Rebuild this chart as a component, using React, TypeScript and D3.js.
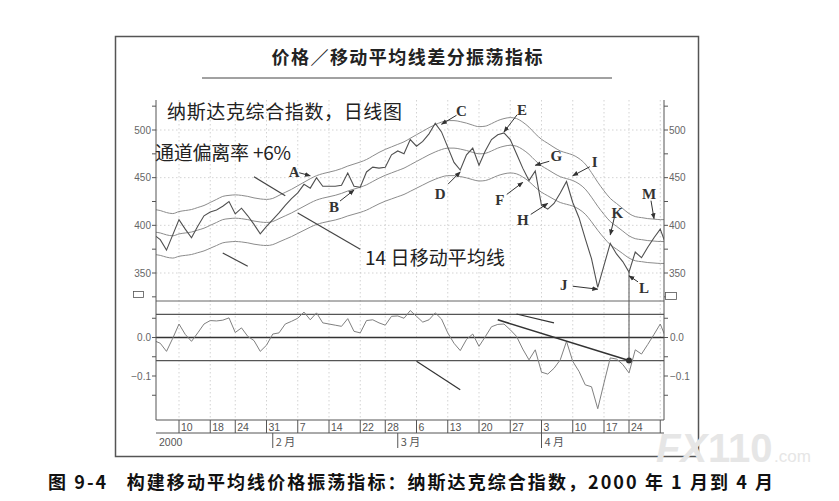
import React from 'react';
import * as d3 from 'd3';

// trading days, Jan 4 .. May 2, 2000
const dates = [
  '01-04', '01-05', '01-06', '01-07', '01-10', '01-11', '01-12', '01-13', '01-14', '01-18',
  '01-19', '01-20', '01-21', '01-24', '01-25', '01-26', '01-27', '01-28', '01-31',
  '02-01', '02-02', '02-03', '02-04', '02-07', '02-08', '02-09', '02-10', '02-11', '02-14',
  '02-15', '02-16', '02-17', '02-18', '02-22', '02-23', '02-24', '02-25', '02-28', '02-29',
  '03-01', '03-02', '03-03', '03-06', '03-07', '03-08', '03-09', '03-10', '03-13', '03-14',
  '03-15', '03-16', '03-17', '03-20', '03-21', '03-22', '03-23', '03-24', '03-27', '03-28',
  '03-29', '03-30', '03-31',
  '04-03', '04-04', '04-05', '04-06', '04-07', '04-10', '04-11', '04-12', '04-13', '04-14',
  '04-17', '04-18', '04-19', '04-20', '04-24', '04-25', '04-26', '04-27', '04-28',
  '05-01', '05-02',
];

const closes = [
  390, 385, 374, 390, 406, 396, 387, 399, 410, 414, 416, 420, 425, 412, 418, 410, 401, 391, 399,
  406, 413, 421, 428, 434, 443, 439, 450, 441, 441, 441, 442, 455, 441, 440, 456, 461, 460, 461, 474,
  478, 475, 490, 483, 488, 496, 507, 498, 482, 466, 458, 474, 481, 463, 478, 490, 495, 497, 490, 475,
  460, 447, 457,
  421, 417, 423, 434, 446, 424, 408, 386, 365, 335, 358, 381, 370, 362, 351, 372, 366, 377, 387,
  396, 378,
];

// 14-day moving average
const ma14 = [
  393, 392, 390, 389, 391, 392, 393, 395, 397, 400,
  403, 406, 407, 407.5, 407, 406, 404.5, 403.5, 403, 404,
  407, 410, 413, 416.5, 420, 423.5, 426.5, 428.5, 430, 431.5,
  433.5, 436, 438, 440, 442.5, 446, 449.5, 452.5, 455, 457.5,
  460, 463.5, 467, 470.5, 474, 477, 479.5, 481, 481, 480,
  478.5, 476.5, 475, 475.5, 478, 481, 483, 484, 483, 479.5,
  474.5, 468, 462.5, 458.5, 454.5, 451, 449, 447, 443.5, 438,
  429.5, 420, 411.5, 404, 399, 394, 389, 386, 385, 384,
  383.5, 383, 383,
];

const bandPct = 0.06;

// price / moving average oscillator
const osc = [
  -0.008, -0.015, -0.036, -0.002, 0.035, 0.008, -0.01, 0.012, 0.035, 0.044, 0.043, 0.045, 0.051,
  0.013, 0.025, 0.003, -0.008, -0.036, -0.02,
  0.009, 0.012, 0.035, 0.042, 0.05, 0.066, 0.046, 0.064, 0.038, 0.035, 0.032, 0.029, 0.049, 0.016,
  0.012, 0.044, 0.046, 0.038, 0.032, 0.055,
  0.056, 0.05, 0.07, 0.055, 0.04, 0.046, 0.064, 0.048, 0.012, -0.015, -0.034, -0.005, 0.009, -0.023,
  0.002, 0.028, 0.034, 0.035, 0.02, 0.003, -0.03, -0.058, -0.032,
  -0.09, -0.095, -0.08, -0.058, -0.01, -0.062, -0.088, -0.123, -0.128, -0.185, -0.118, -0.053,
  -0.056, -0.07, -0.092, -0.032, -0.043, -0.018, 0.008,
  0.035, -0.005,
];

const priceMajor = [350, 400, 450, 500];
const priceMinor = [325, 375, 425, 475, 525];
const oscMajor = [-0.1, 0];
const oscMinor = [-0.15, -0.05, 0.05];
const oscBands = [0.06, -0.06];

const weekTicks = ['01-10', '01-18', '01-24', '01-31', '02-07', '02-14', '02-22', '02-28',
  '03-06', '03-13', '03-20', '03-27', '04-03', '04-10', '04-17', '04-24', '05-01'];
const monthStarts = ['02-01', '03-01', '04-03'];
const monthLabels = ['2 月', '3 月', '4 月'];
const yearLabel = '2000';

// lettered arrows: tip on the chart, tail and label offsets in px
const marks = [
  { label: 'A', date: '02-09', value: 452, tail: [-11, -3], text: [-16, -4] },
  { label: 'B', date: '02-18', value: 437, tail: [-14, 11], text: [-20, 17] },
  { label: 'C', date: '03-10', value: 506, tail: [15, -9], text: [20, -13] },
  { label: 'D', date: '03-15', value: 456, tail: [-12, 12], text: [-20, 22] },
  { label: 'E', date: '03-24', value: 498, tail: [13, -17], text: [18, -22] },
  { label: 'F', date: '03-29', value: 445, tail: [-16, 12], text: [-23, 18] },
  { label: 'G', date: '03-31', value: 463, tail: [14, -4], text: [21, -9] },
  { label: 'H', date: '04-04', value: 423, tail: [-17, 11], text: [-25, 17] },
  { label: 'I', date: '04-10', value: 452, tail: [17, -9], text: [22, -14] },
  { label: 'J', date: '04-14', value: 333, tail: [-25, -3], text: [-34, -4] },
  { label: 'K', date: '04-18', value: 390, tail: [4, -17], text: [7, -22] },
  { label: 'L', date: '04-24', value: 347, tail: [9, 6], text: [15, 12] },
  { label: 'M', date: '04-28', value: 407, tail: [-3, -18], text: [-5, -25] },
];

const pricePointers = [
  { from: ['01-27', 451], to: ['02-03', 431] },
  { from: ['02-07', 413], to: ['02-22', 375] },
  { from: ['01-20', 371], to: ['01-26', 357] },
];

const oscPointers = [
  { from: ['03-06', -0.062], to: ['03-15', -0.136], w: 1.2 },
  { from: ['03-23', 0.046], to: ['04-24', -0.06], w: 1.6 },
  { from: ['03-28', 0.061], to: ['04-05', 0.038], w: 1.2 },
];

const L = 156, R = 664, PT = 100, PB = 301, OB = 420, AX1 = 433, AX2 = 448;

const cjk = '"Noto Sans CJK SC", sans-serif';
const latin = '"Liberation Sans", Arial, sans-serif';

const x = d3.scaleLinear().domain([0, dates.length - 1]).range([154, 666.5]);
const yP = d3.scaleLinear().domain([350, 500]).range([273, 130]);
const yO = d3.scaleLinear().domain([-0.1, 0]).range([376, 337.5]);
const xd = (d: string) => x(dates.indexOf(d));

const priceLine = d3.line<number>().x((_, i) => x(i)).y(d => yP(d));
const maLine = d3.line<number>().x((_, i) => x(i)).y(d => yP(d)).curve(d3.curveMonotoneX);
const oscLine = d3.line<number>().x((_, i) => x(i)).y(d => yO(d));

const fmtOsc = d3.format('.1f');

const App: React.FC = () => {
  const upper = ma14.map(v => v * (1 + bandPct));
  const lower = ma14.map(v => v * (1 - bandPct));

  return (
    <svg width={839} height={501} style={{ position: 'absolute', left: 0, top: 0, background: '#fff' }}>
      <defs>
        <clipPath id="pclip"><rect x={L} y={PT} width={R - L} height={PB - PT} /></clipPath>
        <clipPath id="oclip"><rect x={L} y={PB} width={R - L} height={OB - PB} /></clipPath>
        <marker id="arr" viewBox="0 0 10 10" refX="9" refY="5" markerWidth="6" markerHeight="6" orient="auto">
          <path d="M0,1 L10,5 L0,9 Z" fill="#333" />
        </marker>
      </defs>

      {/* outer frame */}
      <rect x={115.5} y={36.5} width={583} height={420} fill="none" stroke="#555" strokeWidth={1.5} />

      {/* title */}
      <text x={407} y={64} textAnchor="middle" fontFamily={cjk} fontWeight="bold" fontSize={18}
        fill="#222" textLength={271} lengthAdjust="spacing">价格／移动平均线差分振荡指标</text>
      <line x1={202} x2={612} y1={78} y2={78} stroke="#444" strokeWidth={1} />

      {/* grid */}
      {weekTicks.map(d => (
        <line key={'g' + d} x1={xd(d)} x2={xd(d)} y1={PT} y2={OB} stroke="#c8c8c8" strokeWidth={0.8}
          strokeDasharray="1.5,2.5" />
      ))}
      {priceMajor.map(v => (
        <line key={'h' + v} x1={L} x2={R} y1={yP(v)} y2={yP(v)} stroke="#c8c8c8" strokeWidth={0.8}
          strokeDasharray="1.5,2.5" />
      ))}

      {/* price panel */}
      <g clipPath="url(#pclip)" fill="none">
        <path d={maLine(upper) ?? ''} stroke="#8c8c8c" strokeWidth={1} />
        <path d={maLine(ma14) ?? ''} stroke="#8c8c8c" strokeWidth={1} />
        <path d={maLine(lower) ?? ''} stroke="#8c8c8c" strokeWidth={1} />
        <path d={priceLine(closes) ?? ''} stroke="#505050" strokeWidth={1.1} />
      </g>

      {/* oscillator panel */}
      <g clipPath="url(#oclip)" fill="none">
        {oscBands.map(v => (
          <line key={'b' + v} x1={L} x2={R} y1={yO(v)} y2={yO(v)} stroke="#555" strokeWidth={1.2} />
        ))}
        <line x1={L} x2={R} y1={yO(0)} y2={yO(0)} stroke="#333" strokeWidth={1.7} />
        <path d={oscLine(osc) ?? ''} stroke="#808080" strokeWidth={1} />
        {oscPointers.map((p, i) => (
          <line key={'op' + i} x1={xd(p.from[0] as string)} y1={yO(p.from[1] as number)}
            x2={xd(p.to[0] as string)} y2={yO(p.to[1] as number)} stroke="#333" strokeWidth={p.w} />
        ))}
      </g>
      <line x1={xd('04-24')} x2={xd('04-24')} y1={yP(351)} y2={yO(-0.06)} stroke="#555" strokeWidth={1} />
      <circle cx={xd('04-24')} cy={yO(-0.06)} r={3} fill="#333" />

      {/* panel frame and axes */}
      <line x1={L} x2={R} y1={PB} y2={PB} stroke="#666" strokeWidth={1} />
      <line x1={L} x2={L} y1={PT} y2={OB} stroke="#555" strokeWidth={1} />
      <line x1={R} x2={R} y1={PT} y2={OB} stroke="#555" strokeWidth={1} />
      <line x1={L} x2={R} y1={OB} y2={OB} stroke="#555" strokeWidth={1} />
      <line x1={L} x2={R} y1={AX1} y2={AX1} stroke="#555" strokeWidth={1} />

      {[...priceMajor, ...priceMinor].map(v => (
        <g key={'pt' + v} stroke="#555" strokeWidth={1}>
          <line x1={L - 4} x2={L} y1={yP(v)} y2={yP(v)} />
          <line x1={R} x2={R + 4} y1={yP(v)} y2={yP(v)} />
        </g>
      ))}
      {priceMajor.map(v => (
        <g key={'pl' + v} fontFamily={latin} fontSize={10} fill="#666">
          <text x={L - 5} y={yP(v) + 3.5} textAnchor="end">{v}</text>
          <text x={R + 5} y={yP(v) + 3.5}>{v}</text>
        </g>
      ))}
      {[...oscMajor, ...oscMinor].map(v => (
        <g key={'ot' + v} stroke="#555" strokeWidth={1}>
          <line x1={L - 4} x2={L} y1={yO(v)} y2={yO(v)} />
          <line x1={R} x2={R + 4} y1={yO(v)} y2={yO(v)} />
        </g>
      ))}
      {oscMajor.map(v => (
        <g key={'ol' + v} fontFamily={latin} fontSize={10} fill="#666">
          <text x={L - 5} y={yO(v) + 3.5} textAnchor="end">{fmtOsc(v)}</text>
          <text x={R + 6} y={yO(v) + 3.5}>{fmtOsc(v)}</text>
        </g>
      ))}

      {/* small scale boxes */}
      <rect x={133.5} y={291.5} width={10} height={6} fill="#fff" stroke="#555" strokeWidth={0.8} />
      <rect x={665.5} y={292.5} width={11} height={7} fill="#fff" stroke="#555" strokeWidth={0.8} />

      {/* date axis */}
      {weekTicks.map(d => (
        <g key={'w' + d}>
          <line x1={xd(d)} x2={xd(d)} y1={OB} y2={AX1} stroke="#555" strokeWidth={1} />
          {xd(d) < R - 10 && (
            <text x={xd(d) + 2} y={AX1 - 2} fontFamily={latin} fontSize={10.5} fill="#555">
              {+d.slice(3)}
            </text>
          )}
        </g>
      ))}
      {monthStarts.map((d, i) => (
        <g key={'m' + d}>
          <line x1={xd(d)} x2={xd(d)} y1={AX1} y2={AX2} stroke="#555" strokeWidth={1} />
          <text x={xd(d) + 3} y={AX2 - 2} fontFamily={cjk} fontSize={11} fill="#555">{monthLabels[i]}</text>
        </g>
      ))}
      <text x={159} y={AX2 - 2} fontFamily={latin} fontSize={10.5} fill="#555">{yearLabel}</text>

      {/* annotations */}
      <text x={167} y={119} fontFamily={cjk} fontSize={19} fill="#222" textLength={235} lengthAdjust="spacing">
        纳斯达克综合指数，日线图
      </text>
      <text x={155} y={160} fontFamily={cjk} fontSize={19} fill="#222" textLength={136} lengthAdjust="spacing">
        通道偏离率 +6%
      </text>
      <text x={365} y={265} fontFamily={cjk} fontSize={19} fill="#222" textLength={140} lengthAdjust="spacing">
        14 日移动平均线
      </text>
      {pricePointers.map((p, i) => (
        <line key={'pp' + i} x1={xd(p.from[0] as string)} y1={yP(p.from[1] as number)}
          x2={xd(p.to[0] as string)} y2={yP(p.to[1] as number)} stroke="#444" strokeWidth={1.2} />
      ))}
      {marks.map(m => {
        const tx = xd(m.date), ty = yP(m.value);
        return (
          <g key={m.label}>
            <line x1={tx + m.tail[0]} y1={ty + m.tail[1]} x2={tx} y2={ty} stroke="#333" strokeWidth={1}
              markerEnd="url(#arr)" />
            <text x={tx + m.text[0]} y={ty + m.text[1]} textAnchor="middle" dominantBaseline="central"
              fontFamily='"Liberation Serif", serif' fontWeight="bold" fontSize={15} fill="#333">{m.label}</text>
          </g>
        );
      })}

      {/* watermark */}
      <g fill="#e6e6e6" fontFamily={latin} fontWeight="bold">
        <text x={656} y={462} fontSize={40} fontStyle="italic">FX</text>
        <text x={708} y={462} fontSize={40}>110</text>
        <text x={774} y={462} fontSize={17} fontWeight="normal">.com</text>
      </g>

      {/* caption */}
      <text x={48} y={489} fontFamily={cjk} fontWeight="bold" fontSize={18} fill="#111" textLength={725}
        lengthAdjust="spacing" xmlSpace="preserve">
        图 9-4   构建移动平均线价格振荡指标：纳斯达克综合指数，2000 年 1 月到 4 月
      </text>
    </svg>
  );
};

export default App;
